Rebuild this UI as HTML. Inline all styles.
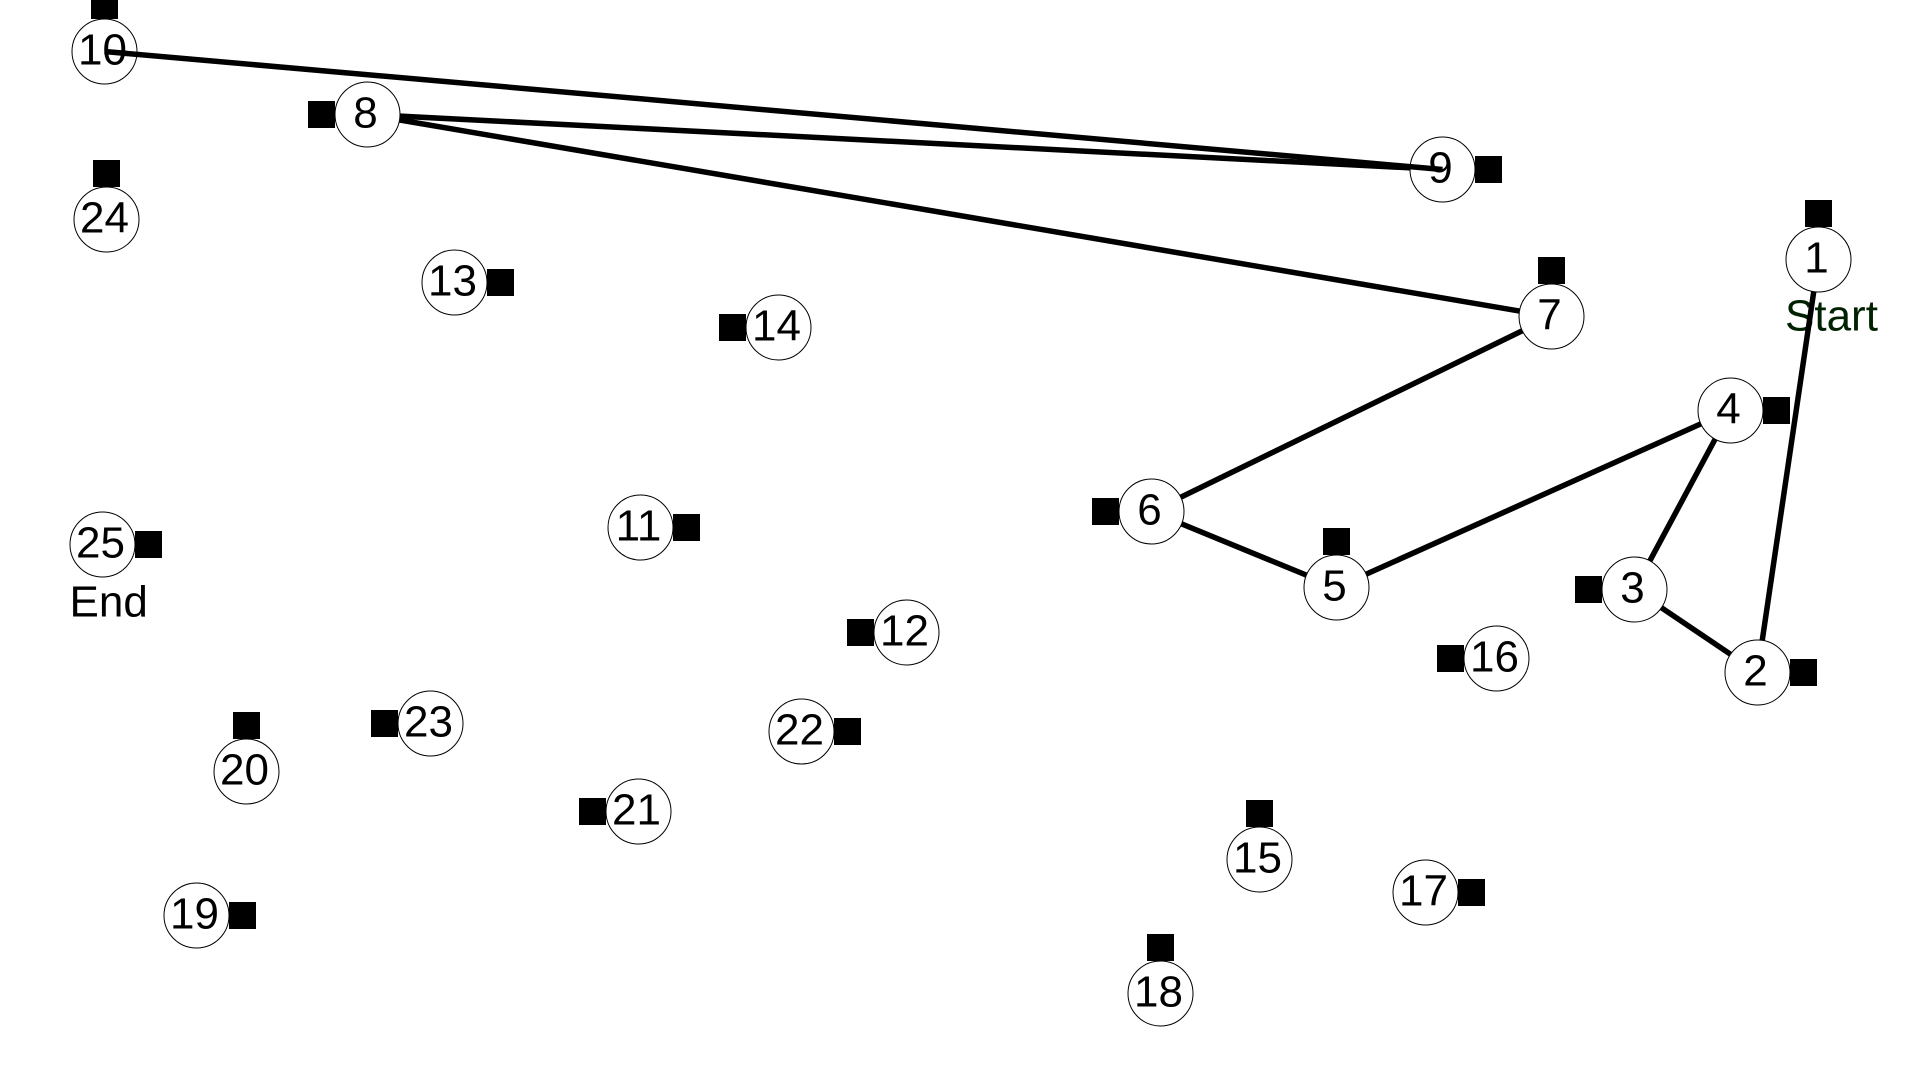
<!DOCTYPE html>
<html lang="en">
<head>
<meta charset="utf-8">
<title>Route map</title>
<style>
  html, body { margin: 0; padding: 0; width: 1920px; height: 1080px; overflow: hidden; background: #fff; }
  svg { display: block; }
  text { font-family: "Liberation Sans", Arial, sans-serif; font-size: 44px; }
</style>
</head>
<body>
<svg id="chart" width="1920" height="1080" viewBox="0 0 1920 1080" xmlns="http://www.w3.org/2000/svg">
  <g id="captions"></g>
  <g id="route"></g>
  <g id="stations"></g>
  <g id="nodes"></g>
  <g id="active"></g>
</svg>
<script>
// Station positions in map units (the map spans 960 x 540 units).
const stationIds = [1, 2, 3, 4, 5, 6, 7, 8, 9, 10, 11, 12, 13, 14, 15, 16, 17, 18, 19, 20, 21, 22, 23, 24, 25];
const stationX = [909.25, 901.75, 794.25, 888.25, 668.25, 552.75, 775.75, 160.75, 744.25, 52.25, 343.25, 430.25, 250.25, 366.25, 629.75, 725.25, 735.75, 580.25, 121.25, 123.25, 296.25, 423.75, 192.25, 53.25, 74.25];
const stationY = [106.75, 336.25, 294.75, 205.25, 270.75, 255.75, 135.25, 57.25, 84.75, 2.75, 263.75, 316.25, 141.25, 163.75, 406.75, 329.25, 446.25, 473.75, 457.75, 362.75, 405.75, 365.75, 361.75, 86.75, 272.25];
// Which side of the station square its numbered node sits on.
const nodeSides = ["S", "W", "E", "W", "S", "E", "S", "E", "W", "S", "W", "E", "W", "E", "S", "E", "W", "S", "W", "S", "E", "W", "E", "S", "W"];
// Stations visited so far, in travel order.
const routeOrder = [1, 2, 3, 4, 5, 6, 7, 8, 9, 10];
const startCaption = "Start";
const endCaption = "End";

const SVG_NS = "http://www.w3.org/2000/svg";
const UNIT = 1920 / 960;
const xAxis = v => v * UNIT;
const yAxis = v => v * (1080 / 540);
const SQUARE = 27, RADIUS = 32.5, GAP = SQUARE / 2 + RADIUS;

function nodeX(i) {
  const side = nodeSides[i];
  return xAxis(stationX[i]) + (side === "E" ? GAP : side === "W" ? -GAP : 0);
}
function nodeY(i) {
  const side = nodeSides[i];
  return yAxis(stationY[i]) + (side === "S" ? GAP : side === "N" ? -GAP : 0);
}
function make(tag, parent, attrs) {
  const el = document.createElementNS(SVG_NS, tag);
  for (const k in attrs) el.setAttribute(k, attrs[k]);
  parent.appendChild(el);
  return el;
}

const captions = document.getElementById("captions");
const routeLayer = document.getElementById("route");
const stationLayer = document.getElementById("stations");
const nodeLayer = document.getElementById("nodes");
const activeLayer = document.getElementById("active");

// Start / End captions
const firstIdx = stationIds.indexOf(1);
const lastIdx = stationIds.indexOf(25);
const startEl = make("text", captions, { x: nodeX(firstIdx) - 33.5, y: nodeY(firstIdx) + 71, fill: "#002200" });
startEl.textContent = startCaption;


const endEl = make("text", captions, { x: nodeX(lastIdx) - 33, y: nodeY(lastIdx) + 72, fill: "#000" });
endEl.textContent = endCaption;



// Route segments: the final one is drawn above the nodes
for (let s = 0; s < routeOrder.length - 1; s++) {
  const a = stationIds.indexOf(routeOrder[s]);
  const b = stationIds.indexOf(routeOrder[s + 1]);
  const isLast = s === routeOrder.length - 2;
  const seg = make("line", isLast ? activeLayer : routeLayer, {
    x1: nodeX(a), y1: nodeY(a), x2: nodeX(b), y2: nodeY(b),
    stroke: "#000", "stroke-width": 5.5
  });
  
  
}

// Station squares, node circles and numbers
stationIds.forEach((id, i) => {
  const sq = make("rect", stationLayer, {
    x: xAxis(stationX[i]) - SQUARE / 2, y: yAxis(stationY[i]) - SQUARE / 2,
    width: SQUARE, height: SQUARE, fill: "#000"
  });
  
  

  const circle = make("circle", nodeLayer, {
    cx: nodeX(i), cy: nodeY(i), r: RADIUS, fill: "#fff", stroke: "#000", "stroke-width": 1
  });
  
  

  const label = make("text", nodeLayer, {
    x: nodeX(i) - 2, y: nodeY(i) + 13, fill: "#000", "text-anchor": "middle"
  });
  label.textContent = String(id);
  
  
});
</script>
</body>
</html>
